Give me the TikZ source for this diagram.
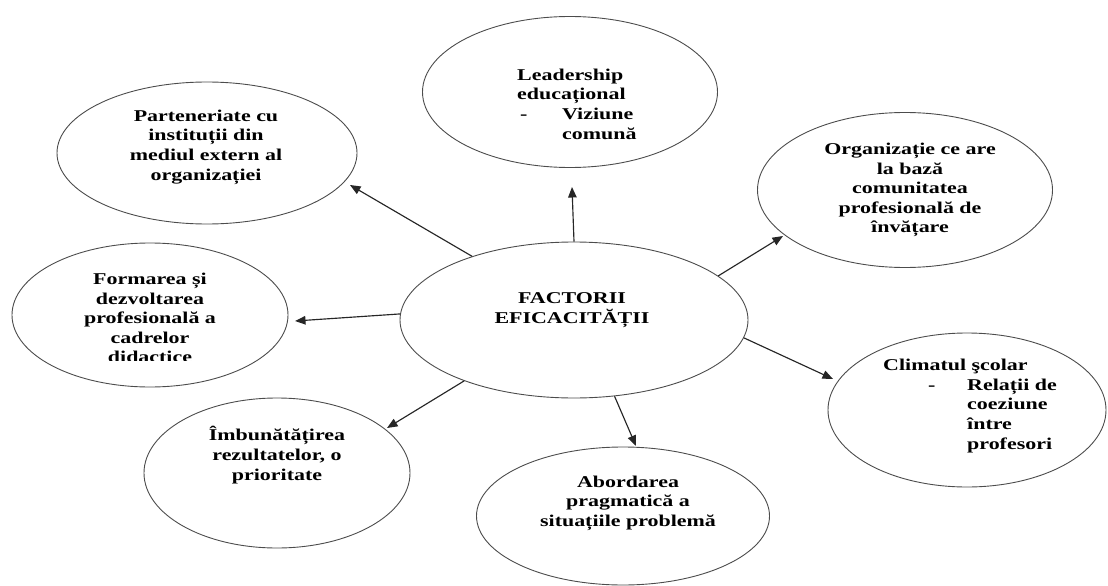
\documentclass[tikz,border=0pt]{standalone}
\usepackage{fontspec}
\setmainfont{Liberation Serif}[FakeStretch=1.33]
\usetikzlibrary{shapes.geometric,arrows.meta}
\begin{document}
\begin{tikzpicture}[x=1pt,y=-1pt,
  ell/.style={ellipse,draw=black!70,line width=0.9pt,inner sep=0pt},
  txt/.style={font=\fontsize{16.5}{19.6}\selectfont\bfseries,inner sep=0pt,text=black},
  arr/.style={draw=black!85,line width=1.15pt,-{Triangle[length=10.5pt,width=8.5pt]}}]
\useasboundingbox (0,0) rectangle (1108,586);
% ellipses
\node[ell,minimum width=348pt,minimum height=156pt] (c) at (574,320) {};
\node[ell,minimum width=295pt,minimum height=151pt] (lead) at (570,92) {};
\node[ell,minimum width=300pt,minimum height=142pt] (part) at (207,153) {};
\node[ell,minimum width=295pt,minimum height=155pt] (org) at (905,190) {};
\node[ell,minimum width=276pt,minimum height=144pt] (form) at (150,315) {};
\node[ell,minimum width=278pt,minimum height=154pt] (clim) at (967,410) {};
\node[ell,minimum width=266pt,minimum height=150pt] (imb) at (277,473) {};
\node[ell,minimum width=293pt,minimum height=138pt] (ab) at (623,516) {};
% texts
\node[txt,align=center] (cT) at (572,310) {FACTORII\\EFICACITĂȚII};
\node[txt,align=left,anchor=west] (leadT) at (517,104) {Leadership\\educațional\\\makebox[45pt][l]{\hspace*{3pt}-}Viziune\\\hspace*{45pt}comună};
\node[txt,align=center] (partT) at (206,147) {Parteneriate cu\\instituții din\\mediul extern al\\organizației};
\node[txt,align=center] (orgT) at (910,190) {Organizație ce are\\la bază\\comunitatea\\profesională de\\învățare};
\begin{scope}
\clip (0,0) rectangle (300,360);
\node[txt,align=center] (formT) at (150,318) {Formarea și\\dezvoltarea\\profesională a\\cadrelor\\didactice};
\end{scope}
\node[txt,align=left,anchor=west] (climT) at (883,406) {Climatul şcolar\\\makebox[84pt][l]{\hspace*{45pt}-}Relații de\\\hspace*{84pt}coeziune\\\hspace*{84pt}între\\\hspace*{84pt}profesori};
\node[txt,align=center] (imbT) at (277,455) {Îmbunătățirea\\rezultatelor, o\\prioritate};
\node[txt,align=center] (abT) at (628,503) {Abordarea\\pragmatică a\\situațiile problemă};
% arrow tips
\coordinate (tLead) at (572,187);
\coordinate (tPart) at (350,185);
\coordinate (tOrg) at (783,236);
\coordinate (tForm) at (295,321);
\coordinate (tClim) at (833,379);
\coordinate (tImb) at (387,428);
\coordinate (tAb) at (636,446);
% connectors
\draw[arr] (c.90.5) -- (tLead);
\draw[arr] (c.148.8) -- (tPart);
\draw[arr] (c.17.5) -- (tOrg);
\draw[arr] (c.178.7) -- (tForm);
\draw[arr] (c.-6.6) -- (tClim);
\draw[arr] (c.209.4) -- (tImb);
\draw[arr] (c.-62.3) -- (tAb);
\end{tikzpicture}
\end{document}
